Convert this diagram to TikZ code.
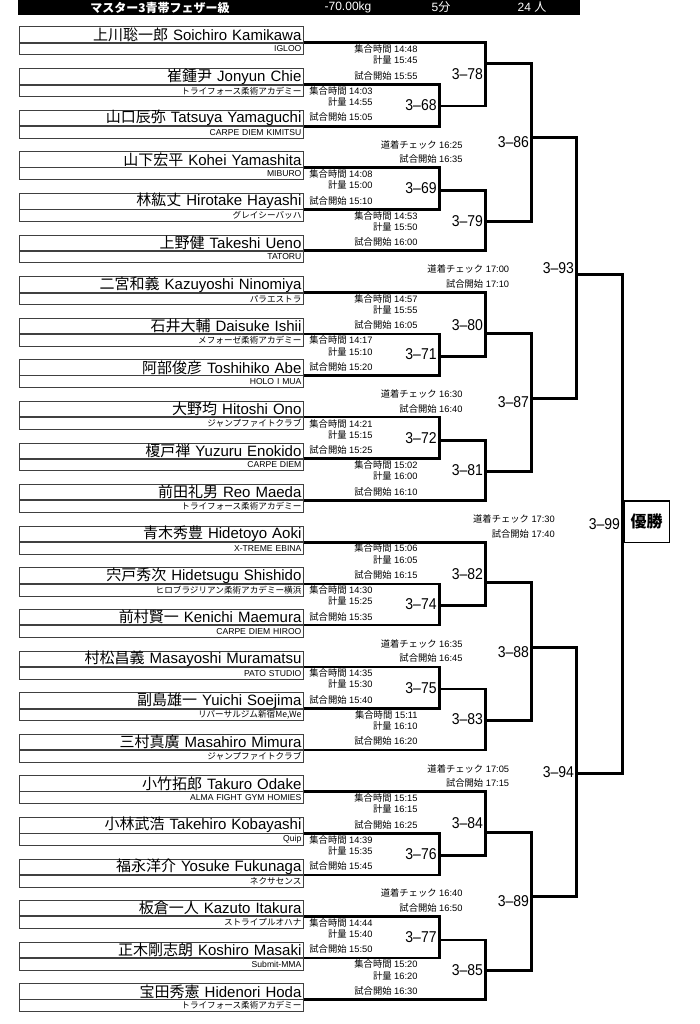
\documentclass[tikz,border=0pt]{standalone}
\usepackage{fontspec}
\setmainfont{Liberation Sans}
\newfontfamily\jp{Noto Sans CJK JP}
\usetikzlibrary{calc,positioning}

\definecolor{boxline}{gray}{0.25}

\newcommand\namefont{\fontsize{15}{15}\selectfont}
\newcommand\teamfont{\fontsize{8.6}{9}\selectfont}
\newcommand\timefont{\fontsize{9.3}{10}\selectfont}
\newcommand\numfont{\fontsize{14}{14}\selectfont}

\tikzset{
  namebox/.style={draw=boxline, line width=0.8pt, anchor=north west,
    minimum width=284pt, minimum height=15.3pt, inner xsep=2pt, inner ysep=0pt,
    text width=280pt, align=right, font=\namefont},
  teambox/.style={namebox, anchor=north, minimum height=11.7pt, font=\teamfont},
  bracket/.style={line width=2.6pt},
  matchno/.style={anchor=east, xshift=-2.5pt, inner sep=0pt, font=\numfont},
  timeline/.style={anchor=east, inner sep=0pt, font=\timefont},
  headtxt/.style={text=white, inner sep=0pt, font=\fontsize{12}{12}\selectfont},
  winbox/.style={draw=black, line width=1.2pt, anchor=west, minimum width=45.4pt,
    minimum height=41.3pt, inner sep=0pt, font=\jp\bfseries\fontsize{16}{16}\selectfont}
}

% match: id, upper end, lower end, x of the bar, y of the way out
\newcommand\matchup[5]{%
  \draw[bracket] (#2) -| (#4,#5) coordinate (o#1) |- (#3);
  \node[matchno] (m#1) at ($(#4,0 |- #2)!.5!(#4,0 |- #3)$) {\scalebox{1}[1.12]{3–#1}};
}
% times of a first-day bout: id, row, right edge, gather, weigh, start
\newcommand\firstslot[6]{%
  \node[timeline] (g#1) at (#3,{41.8+41.6*#2+7.4}) {{\jp 集合時間} #4};
  \node[timeline] (w#1) at (#3,{41.8+41.6*#2+18.6}) {{\jp 計量} #5};
  \node[timeline] (s#1) at (#3,{41.8+41.6*#2+34}) {{\jp 試合開始} #6};
}
% times of a later bout: id, row, right edge, gi check, start
\newcommand\laterslot[5]{%
  \node[timeline] (c#1) at (#3,{41.8+41.6*#2+19.5}) {{\jp 道着チェック} #4};
  \node[timeline] (s#1) at (#3,{41.8+41.6*#2+34.2}) {{\jp 試合開始} #5};
}

\begin{document}
\begin{tikzpicture}[x=1pt,y=-1pt]
\useasboundingbox (0,0) rectangle (700,1024);

% Header
\fill[black] (18,0) rectangle (580,15);
\node[headtxt] (hcls) at (160,7.5) {\jp\bfseries マスター3青帯フェザー級};
\node[headtxt] (hwt) at (348,7.5) {-70.00kg};
\node[headtxt] (htime) at (441,7.5) {5{\jp 分}};
\node[headtxt] (hnum) at (532,7.5) {24 {\jp 人}};

% Fighters
\foreach \idx/\kan/\rom/\gym in {
  0/上川聡一郎/Soichiro Kamikawa/IGLOO,
  1/崔鍾尹/Jonyun Chie/\jp トライフォース柔術アカデミー,
  2/山口辰弥/Tatsuya Yamaguchi/CARPE DIEM KIMITSU,
  3/山下宏平/Kohei Yamashita/MIBURO,
  4/林紘丈/Hirotake Hayashi/\jp グレイシーバッハ,
  5/上野健/Takeshi Ueno/TATORU,
  6/二宮和義/Kazuyoshi Ninomiya/\jp パラエストラ,
  7/石井大輔/Daisuke Ishii/\jp メフォーゼ柔術アカデミー,
  8/阿部俊彦/Toshihiko Abe/HOLO I MUA,
  9/大野均/Hitoshi Ono/\jp ジャンプファイトクラブ,
  10/榎戸禅/Yuzuru Enokido/CARPE DIEM,
  11/前田礼男/Reo Maeda/\jp トライフォース柔術アカデミー,
  12/青木秀豊/Hidetoyo Aoki/X-TREME EBINA,
  13/宍戸秀次/Hidetsugu Shishido/\jp ヒロブラジリアン柔術アカデミー横浜,
  14/前村賢一/Kenichi Maemura/CARPE DIEM HIROO,
  15/村松昌義/Masayoshi Muramatsu/PATO STUDIO,
  16/副島雄一/Yuichi Soejima/{\jp リバーサルジム新宿Me,We},
  17/三村真廣/Masahiro Mimura/\jp ジャンプファイトクラブ,
  18/小竹拓郎/Takuro Odake/ALMA FIGHT GYM HOMIES,
  19/小林武浩/Takehiro Kobayashi/Quip,
  20/福永洋介/Yosuke Fukunaga/\jp ネクサセンス,
  21/板倉一人/Kazuto Itakura/\jp ストライプルオハナ,
  22/正木剛志朗/Koshiro Masaki/Submit-MMA,
  23/宝田秀憲/Hidenori Hoda/\jp トライフォース柔術アカデミー}
{
  \node[namebox] (n\idx) at (19,{26.5+41.6*\idx}) {{\jp\kan} \rom};
  \node[teambox] (t\idx) at (n\idx.south) {\gym};
}

% First round
\matchup{68}{n1.south east}{n2.south east}{439.3}{106}
\matchup{69}{n3.south east}{n4.south east}{439.3}{190.7}
\matchup{71}{n7.south east}{n8.south east}{439.3}{356.7}
\matchup{72}{n9.south east}{n10.south east}{439.3}{440.7}
\matchup{74}{n13.south east}{n14.south east}{439.3}{605.7}
\matchup{75}{n15.south east}{n16.south east}{439.3}{689}
\matchup{76}{n19.south east}{n20.south east}{439.3}{855.7}
\matchup{77}{n21.south east}{n22.south east}{439.3}{940}

% Second round
\matchup{78}{n0.south east}{o68}{485.7}{63.3}
\matchup{79}{o69}{n5.south east}{485.7}{221.7}
\matchup{80}{n6.south east}{o71}{485.7}{333.3}
\matchup{81}{o72}{n11.south east}{485.7}{471.7}
\matchup{82}{n12.south east}{o74}{485.7}{582.7}
\matchup{83}{o75}{n17.south east}{485.7}{720.7}
\matchup{84}{n18.south east}{o76}{485.7}{832.3}
\matchup{85}{o77}{n23.south east}{485.7}{970.7}

% Quarter finals, semi finals, final
\matchup{86}{o78}{o79}{531.7}{137.3}
\matchup{87}{o80}{o81}{531.7}{398.3}
\matchup{88}{o82}{o83}{531.7}{647.7}
\matchup{89}{o84}{o85}{531.7}{896.7}
\matchup{93}{o86}{o87}{576.7}{274.3}
\matchup{94}{o88}{o89}{576.7}{773.3}
\matchup{99}{o93}{o94}{622.7}{521.7}
\node[winbox] (win) at ([xshift=0.6pt]o99) {優勝};

% Times
\firstslot{78}{0}{417.7}{14:48}{15:45}{15:55}
\firstslot{68}{1}{372.7}{14:03}{14:55}{15:05}
\firstslot{69}{3}{372.7}{14:08}{15:00}{15:10}
\firstslot{79}{4}{417.7}{14:53}{15:50}{16:00}
\firstslot{80}{6}{417.7}{14:57}{15:55}{16:05}
\firstslot{71}{7}{372.7}{14:17}{15:10}{15:20}
\firstslot{72}{9}{372.7}{14:21}{15:15}{15:25}
\firstslot{81}{10}{417.7}{15:02}{16:00}{16:10}
\firstslot{82}{12}{417.7}{15:06}{16:05}{16:15}
\firstslot{74}{13}{372.7}{14:30}{15:25}{15:35}
\firstslot{75}{15}{372.7}{14:35}{15:30}{15:40}
\firstslot{83}{16}{417.7}{15:11}{16:10}{16:20}
\firstslot{84}{18}{417.7}{15:15}{16:15}{16:25}
\firstslot{76}{19}{372.7}{14:39}{15:35}{15:45}
\firstslot{77}{21}{372.7}{14:44}{15:40}{15:50}
\firstslot{85}{22}{417.7}{15:20}{16:20}{16:30}
\laterslot{86}{2}{462.7}{16:25}{16:35}
\laterslot{87}{8}{462.7}{16:30}{16:40}
\laterslot{88}{14}{462.7}{16:35}{16:45}
\laterslot{89}{20}{462.7}{16:40}{16:50}
\laterslot{93}{5}{509.3}{17:00}{17:10}
\laterslot{94}{17}{509.3}{17:05}{17:15}
\laterslot{99}{11}{555}{17:30}{17:40}

\end{tikzpicture}
\end{document}
